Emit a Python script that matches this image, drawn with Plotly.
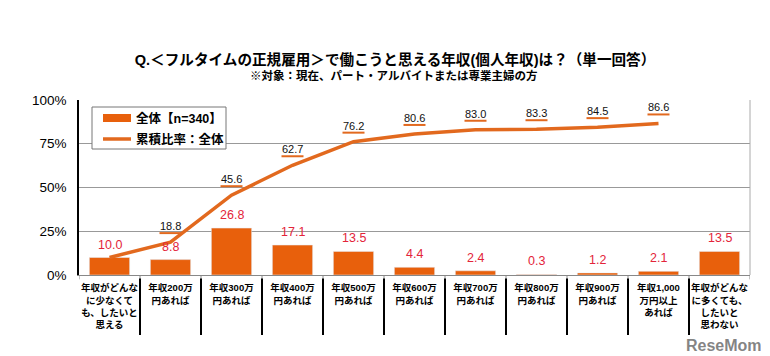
import plotly.graph_objects as go

categories = [
    "年収がどんな<br>に少なくて<br>も、したいと<br>思える",
    "年収200万<br>円あれば",
    "年収300万<br>円あれば",
    "年収400万<br>円あれば",
    "年収500万<br>円あれば",
    "年収600万<br>円あれば",
    "年収700万<br>円あれば",
    "年収800万<br>円あれば",
    "年収900万<br>円あれば",
    "年収1,000<br>万円以上<br>あれば",
    "年収がどんな<br>に多くても、<br>したいと<br>思わない",
]
share = [10.0, 8.8, 26.8, 17.1, 13.5, 4.4, 2.4, 0.3, 1.2, 2.1, 13.5]
cumulative = [10.0, 18.8, 45.6, 62.7, 76.2, 80.6, 83.0, 83.3, 84.5, 86.6]
yticks = [0, 25, 50, 75, 100]
yticklabels = ["0%", "25%", "50%", "75%", "100%"]

BAR = "#E8600C"
LINE = "#E2691E"
RED = "#E3243A"
FONT = "Liberation Sans, Noto Sans CJK JP, sans-serif"

x = list(range(len(categories)))

fig = go.Figure()
fig.add_trace(go.Bar(x=x, y=share, marker_color=BAR, width=0.66, showlegend=False))
fig.add_trace(go.Scatter(x=x[:len(cumulative)], y=cumulative, mode="lines",
                         line=dict(color=LINE, width=3.5), showlegend=False))

annotations = []
shapes = []
for i, v in enumerate(share):
    annotations.append(dict(x=i, y=v, xref="x", yref="y", text=f"{v:.1f}",
                            showarrow=False, yanchor="bottom", yshift=4,
                            font=dict(family=FONT, size=12.5, color=RED)))
for i, v in enumerate(cumulative):
    if i == 0:
        continue
    annotations.append(dict(x=i, y=v, xref="x", yref="y", text=f"{v:.1f}",
                            showarrow=False, yanchor="bottom", yshift=8,
                            font=dict(family=FONT, size=11, color="#111")))
    shapes.append(dict(type="line", xref="x", yref="y", xsizemode="pixel", ysizemode="pixel",
                       xanchor=i, yanchor=v, x0=-11, x1=11, y0=9, y1=9,
                       line=dict(color=LINE, width=2)))

# category separators below the axis
for b in range(0, len(categories) + 1):
    shapes.append(dict(type="line", xref="x", yref="paper", x0=b - 0.5, x1=b - 0.5,
                       y0=0, y1=-0.025, line=dict(color="#888", width=1)))
for b in range(1, len(categories)):
    shapes.append(dict(type="line", xref="x", yref="paper", x0=b - 0.5, x1=b - 0.5,
                       y0=-0.02, y1=-0.343, line=dict(color="#000", width=2)))

# custom legend
pw, ph = 671.0, 175.0
def px(xp):
    return (xp - 79) / pw
def py(yp):
    return (275 - yp) / ph
shapes.append(dict(type="rect", xref="paper", yref="paper", x0=px(92), x1=px(226),
                   y0=py(149), y1=py(107), line=dict(color="#777", width=1),
                   fillcolor="white"))
shapes.append(dict(type="rect", xref="paper", yref="paper", x0=px(103), x1=px(131),
                   y0=py(122), y1=py(114), line=dict(width=0), fillcolor=BAR))
shapes.append(dict(type="line", xref="paper", yref="paper", x0=px(103), x1=px(131),
                   y0=py(139), y1=py(139), line=dict(color=LINE, width=3.5)))
annotations.append(dict(x=px(134), y=py(118), xref="paper", yref="paper", text="<b>全体【n=340】</b>",
                        showarrow=False, xanchor="left", yanchor="middle",
                        font=dict(family=FONT, size=12.5, color="#000")))
annotations.append(dict(x=px(134), y=py(139), xref="paper", yref="paper", text="<b>累積比率：全体</b>",
                        showarrow=False, xanchor="left", yanchor="middle",
                        font=dict(family=FONT, size=12.5, color="#000")))

fig.update_layout(
    title=dict(
        text="<b>Q.＜フルタイムの正規雇用＞で働こうと思える年収(個人年収)は？（単一回答）</b>",
        x=395 / 770, xanchor="center", y=1 - 60 / 356, yanchor="middle",
        font=dict(family=FONT, size=14.6, color="#000"),
    ),
)
annotations.append(dict(x=px(393), y=py(75), xref="paper", yref="paper",
                        text="<b>※対象：現在、パート・アルバイトまたは専業主婦の方</b>",
                        showarrow=False, xanchor="center", yanchor="middle",
                        font=dict(family=FONT, size=11.5, color="#000")))
annotations.append(dict(x=px(764), y=py(345), xref="paper", yref="paper",
                        text="<b>ReseMom</b>", showarrow=False, xanchor="right", yanchor="middle",
                        font=dict(family=FONT, size=16, color="rgba(110,110,110,0.85)")))

shapes.append(dict(type="line", xref="paper", yref="paper", x0=1, x1=1, y0=0, y1=1,
                   line=dict(color="#aaa", width=1)))

fig.update_layout(
    width=770, height=356,
    margin=dict(l=79, r=20, t=100, b=81),
    paper_bgcolor="white", plot_bgcolor="white",
    annotations=annotations, shapes=shapes,
    font=dict(family=FONT, color="#000"),
)
fig.update_xaxes(
    tickmode="array", tickvals=x, ticktext=[f"<b>{c}</b>" for c in categories],
    range=[-0.5, len(categories) - 0.5],
    tickfont=dict(family=FONT, size=9.5, color="#000"),
    showline=True, linecolor="#888", linewidth=1,
    showgrid=False, ticks="", tickangle=0, ticklabelstandoff=4,
)
fig.update_yaxes(
    range=[0, 100], tickvals=yticks, ticktext=yticklabels,
    tickfont=dict(family=FONT, size=13.5, color="#000"),
    showgrid=True, gridcolor="#999", gridwidth=1,
    showline=True, linecolor="#000", linewidth=1.5,
    ticks="", zeroline=False, ticklabelstandoff=8,
)

fig.write_html("out.html", config={"displayModeBar": False},
               post_script="document.body.style.margin='0';document.body.style.overflow='hidden';")
